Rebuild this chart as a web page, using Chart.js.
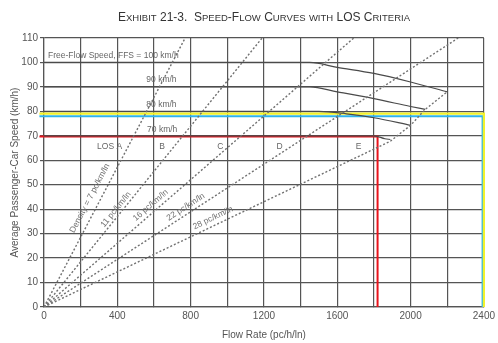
<!DOCTYPE html>
<html><head><meta charset="utf-8">
<script src="https://cdn.jsdelivr.net/npm/chart.js@4.4.1/dist/chart.umd.min.js"></script>
<style>html,body{margin:0;padding:0;background:#fff}#wrap{width:498px;height:343px;position:relative}</style>
</head><body><div id="wrap"><canvas id="c"></canvas></div>
<script>
const FONT = "'Liberation Sans Narrow','Arial Narrow','Liberation Sans',Arial,sans-serif";

// ---- Data ----
// Speed-flow curves (flow pc/h/ln, speed km/h)
const ffs100Flow = [0, 1450, 1600, 1800, 2000, 2200];
const ffs100Speed = [100, 100, 98, 95.5, 92, 88];
const ffs90Flow = [0, 1450, 1600, 1800, 2000, 2080];
const ffs90Speed = [90, 90, 88, 85.2, 82, 80.8];
const ffs80Flow = [0, 1500, 1650, 1800, 2000];
const ffs80Speed = [80, 80, 79, 77.4, 74.3];
const ffs70Flow = [0, 1800, 1860, 1890];
const ffs70Speed = [70, 70, 68.8, 68.5];

// Density (LOS boundary) lines
const density7Flow = [0, 770];
const density7Speed = [0, 110];
const density11Flow = [0, 1190];
const density11Speed = [0, 110];
const density16Flow = [0, 1690];
const density16Speed = [0, 110];
const density22Flow = [0, 2260];
const density22Speed = [0, 110];
const density28Flow = [0, 1890, 2000, 2080, 2200];
const density28Speed = [0, 67.8, 74.3, 80.8, 88];

// Coloured criteria outlines
const redFlow = [-25, 1820, 1820];
const redSpeed = [69.7, 69.7, 0];
const yellowFlow = [-25, 2400, 2400];
const yellowSpeed = [79.1, 79.1, 0];
const blueFlow = [-25, 2393, 2393];
const blueSpeed = [78, 78, 0];

// Axis ticks
const xTicks = [0, 400, 800, 1200, 1600, 2000, 2400];
const yTicks = [0, 10, 20, 30, 40, 50, 60, 70, 80, 90, 100, 110];

// Text annotations
const curveLabels = ['Free-Flow Speed, FFS = 100 km/h', '90 km/h', '80 km/h', '70 km/h'];
const losLabels = ['LOS A', 'B', 'C', 'D', 'E'];
const densityLabels = ['Density = 7 pc/km/ln', '11 pc/km/ln', '16 pc/km/ln', '22 pc/km/ln', '28 pc/km/ln'];

// annotation anchors (data coordinates)
const curveLabelAt = [[22, 102.8, 'left'], [641, 93, 'center'], [641, 82.9, 'center'], [645, 72.7, 'center']];
const losLabelAt = [[358, 65.4], [644, 65.4], [962, 65.4], [1285, 65.4], [1717, 65.4]];
const densityLabelAt = [[262, 44], [403, 39.2], [591, 40.8], [781, 40], [928, 35.5]];

function pts(xs, ys) { return xs.map((x, i) => ({x: x, y: ys[i]})); }

const curveStyle = {borderColor: '#4a4a4a', borderWidth: 1.2, pointRadius: 0, showLine: true, cubicInterpolationMode: 'monotone', fill: false};
const dashStyle = {borderColor: '#707070', borderWidth: 1.4, borderDash: [2, 2], pointRadius: 0, showLine: true, fill: false};
const densitySets = [
  ['7', density7Flow, density7Speed], ['11', density11Flow, density11Speed],
  ['16', density16Flow, density16Speed], ['22', density22Flow, density22Speed],
  ['28', density28Flow, density28Speed]
];

const datasets = [];
densitySets.forEach(d => datasets.push(Object.assign({label: 'Density ' + d[0], data: pts(d[1], d[2])}, dashStyle)));
datasets.push(Object.assign({label: 'FFS 100', data: pts(ffs100Flow, ffs100Speed)}, curveStyle));
datasets.push(Object.assign({label: 'FFS 90', data: pts(ffs90Flow, ffs90Speed)}, curveStyle));
datasets.push(Object.assign({label: 'FFS 80', data: pts(ffs80Flow, ffs80Speed)}, curveStyle));
datasets.push(Object.assign({label: 'FFS 70', data: pts(ffs70Flow, ffs70Speed)}, curveStyle));
datasets.push({label: 'Yellow', data: pts(yellowFlow, yellowSpeed), borderColor: '#f2f22a', borderWidth: 2.2, pointRadius: 0, showLine: true, clip: false});
datasets.push({label: 'Blue', data: pts(blueFlow, blueSpeed), borderColor: '#2fb4ea', borderWidth: 2, pointRadius: 0, showLine: true, clip: false});
datasets.push({label: 'Red', data: pts(redFlow, redSpeed), borderColor: '#e8141c', borderWidth: 2, pointRadius: 0, showLine: true, clip: false});

const annotations = {
  id: 'annotations',
  afterDraw(chart) {
    const ctx = chart.ctx, xs = chart.scales.x, ys = chart.scales.y;
    ctx.save();
    ctx.fillStyle = '#666';
    ctx.textBaseline = 'middle';
    ctx.font = '8.5px ' + FONT;
    curveLabels.forEach((t, i) => {
      const a = curveLabelAt[i];
      ctx.textAlign = a[2];
      ctx.fillText(t, xs.getPixelForValue(a[0]), ys.getPixelForValue(a[1]));
    });
    ctx.textAlign = 'center';
    losLabels.forEach((t, i) => {
      const a = losLabelAt[i];
      ctx.fillText(t, xs.getPixelForValue(a[0]), ys.getPixelForValue(a[1]));
    });
    ctx.fillStyle = '#707070';
    densityLabels.forEach((t, i) => {
      const d = densitySets[i];
      const x0 = xs.getPixelForValue(d[1][0]), y0 = ys.getPixelForValue(d[2][0]);
      const x1 = xs.getPixelForValue(d[1][1]), y1 = ys.getPixelForValue(d[2][1]);
      const ang = Math.atan2(y1 - y0, x1 - x0);
      const a = densityLabelAt[i];
      ctx.save();
      ctx.translate(xs.getPixelForValue(a[0]), ys.getPixelForValue(a[1]));
      ctx.rotate(ang);
      ctx.fillText(t, 0, -2.5);
      ctx.restore();
    });
    // title in small caps
    const title = 'Exhibit 21-3.  Speed-Flow Curves with LOS Criteria';
    const big = '12px ' + FONT, small = '9.5px ' + FONT;
    const runs = [];
    for (const ch of title) {
      const isLower = ch !== ch.toUpperCase();
      runs.push([isLower ? ch.toUpperCase() : ch, isLower ? small : big]);
    }
    let total = 0;
    runs.forEach(r => { ctx.font = r[1]; r.push(ctx.measureText(r[0]).width); total += r[2]; });
    let x = 264 - total / 2;
    ctx.fillStyle = '#333';
    ctx.textAlign = 'left';
    ctx.textBaseline = 'alphabetic';
    runs.forEach(r => { ctx.font = r[1]; ctx.fillText(r[0], x, 21); x += r[2]; });
    ctx.restore();
  }
};

new Chart(document.getElementById('c'), {
  type: 'scatter',
  data: {datasets},
  plugins: [annotations],
  options: {
    responsive: true, maintainAspectRatio: false, animation: false,
    layout: {padding: {top: 38, right: 12, left: 0, bottom: 0}},
    plugins: {legend: {display: false}, tooltip: {enabled: false}, title: {display: false}},
    scales: {
      x: {
        type: 'linear', min: 0, max: 2400,
        afterFit(s) { s.height = 36; },
        afterBuildTicks(s) {
          const t = [];
          for (let v = 0; v <= 2400; v += 200) t.push({value: v});
          s.ticks = t;
        },
        ticks: {
          autoSkip: false, maxRotation: 0, padding: 3, color: '#555',
          font: {family: FONT, size: 10},
          callback: v => xTicks.includes(v) ? String(v) : ''
        },
        grid: {color: '#555', lineWidth: 1.2, tickLength: 0},
        border: {color: '#555', width: 1.2},
        title: {display: true, text: 'Flow Rate (pc/h/ln)', color: '#555', font: {family: FONT, size: 10}, padding: {top: 0, bottom: 2}}
      },
      y: {
        type: 'linear', min: 0, max: 110,
        afterFit(s) { s.width = 44; },
        afterBuildTicks(s) { s.ticks = yTicks.map(v => ({value: v})); },
        ticks: {padding: 2, color: '#555', font: {family: FONT, size: 10}},
        grid: {color: '#555', lineWidth: 1.2, tickLength: 4},
        border: {color: '#555', width: 1.2},
        title: {display: true, text: 'Average Passenger-Car Speed (km/h)', color: '#555', font: {family: FONT, size: 10}, padding: {top: 9, bottom: 0}}
      }
    }
  }
});
</script>
</body></html>
